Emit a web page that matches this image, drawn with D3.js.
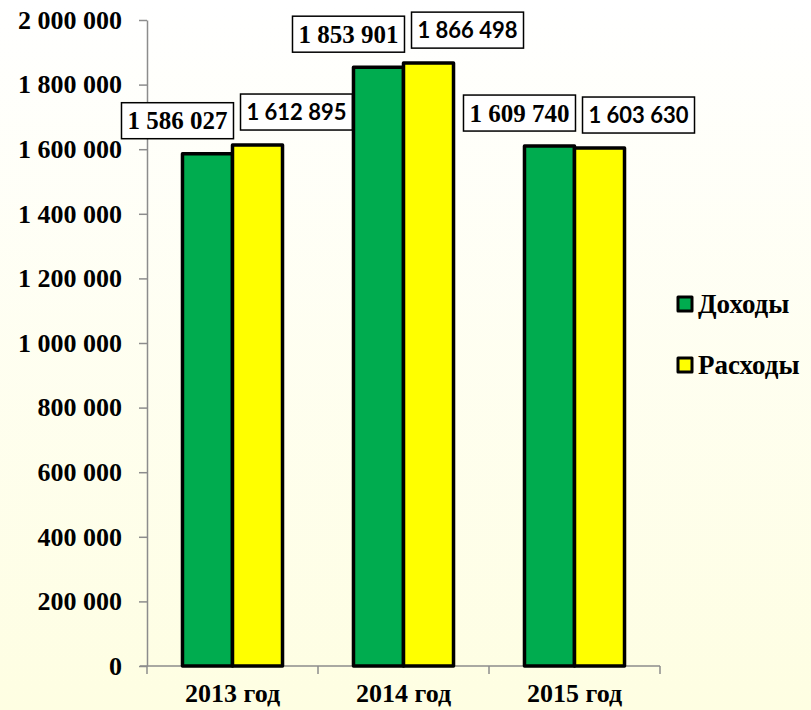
<!DOCTYPE html>
<html>
<head>
<meta charset="utf-8">
<script src="https://cdn.jsdelivr.net/npm/d3@7"></script>
<style>
  html, body { margin: 0; padding: 0; }
  svg { display: block; }
</style>
</head>
<body>
<svg id="chart" width="811" height="710"></svg>
<script>
const years = ['2013 год', '2014 год', '2015 год']
const seriesNames = ['Доходы', 'Расходы']
const income = [1586027, 1853901, 1609740]
const expenses = [1612895, 1866498, 1603630]
const yTicks = [0, 200000, 400000, 600000, 800000, 1000000, 1200000, 1400000, 1600000, 1800000, 2000000]

const width = 811, height = 710
const colors = ['#00ac4f', '#ffff00']
const serif = '"Liberation Serif", "Times New Roman", serif'
const sans = 'Lato, "Open Sans", sans-serif'

const svg = d3.select('#chart')

// soft white -> pale yellow background
const grad = svg.append('defs').append('linearGradient')
  .attr('id', 'bg').attr('x1', 0).attr('y1', 0).attr('x2', 0).attr('y2', 1)
grad.append('stop').attr('offset', '0%').attr('stop-color', '#ffffff')
grad.append('stop').attr('offset', '100%').attr('stop-color', '#fefee2')
svg.append('rect').attr('width', width).attr('height', height).attr('fill', 'url(#bg)')

const locale = d3.formatLocale({ decimal: ',', thousands: ' ', grouping: [3], currency: ['', ''] })
const fmt = locale.format(',')

const xScale = d3.scaleBand()
  .domain(years)
  .range([147, 660])
  .paddingInner(0.415)
  .paddingOuter(0.2075)

const innerScale = d3.scaleBand()
  .domain(seriesNames)
  .range([0, xScale.bandwidth()])

const yScale = d3.scaleLinear()
  .domain([0, 2000000])
  .range([666, 20])

const rows = years.map((year, i) => ({
  year: year,
  values: [
    { name: seriesNames[0], value: income[i] },
    { name: seriesNames[1], value: expenses[i] }
  ]
}))

// y axis
const yAxis = svg.append('g')
  .attr('transform', 'translate(147,0)')
  .call(d3.axisLeft(yScale).tickValues(yTicks).tickFormat(fmt).tickSizeInner(8).tickSizeOuter(0).tickPadding(17))
yAxis.select('.domain').attr('stroke', '#8c8c8c').attr('stroke-width', 1.5)
yAxis.selectAll('.tick line').attr('stroke', '#8c8c8c').attr('stroke-width', 1.5)
yAxis.selectAll('.tick text')
  .attr('font-family', serif).attr('font-weight', 'bold').attr('font-size', 26).attr('fill', '#000')

// x axis line with tick marks at category boundaries
const x0 = xScale.range()[0]
svg.append('line')
  .attr('x1', 140).attr('x2', xScale.range()[1])
  .attr('y1', yScale(0)).attr('y2', yScale(0))
  .attr('stroke', '#8c8c8c').attr('stroke-width', 1.5)
svg.selectAll('.xtick')
  .data(d3.range(years.length + 1))
  .enter().append('line')
  .attr('class', 'xtick')
  .attr('x1', d => x0 + d * xScale.step())
  .attr('x2', d => x0 + d * xScale.step())
  .attr('y1', yScale(0))
  .attr('y2', yScale(0) + 8)
  .attr('stroke', '#8c8c8c').attr('stroke-width', 1.5)

svg.selectAll('.xlabel')
  .data(years)
  .enter().append('text')
  .attr('class', 'xlabel')
  .attr('x', d => xScale(d) + xScale.bandwidth() / 2)
  .attr('y', 702)
  .attr('text-anchor', 'middle')
  .attr('font-family', serif).attr('font-weight', 'bold').attr('font-size', 26)
  .text(d => d)

// bars
const groups = svg.selectAll('.group')
  .data(rows)
  .enter().append('g')
  .attr('class', 'group')
  .attr('transform', d => `translate(${xScale(d.year)},0)`)

groups.selectAll('rect')
  .data(d => d.values)
  .enter().append('rect')
  .attr('x', d => innerScale(d.name))
  .attr('y', d => yScale(d.value))
  .attr('width', innerScale.bandwidth())
  .attr('height', d => yScale(0) - yScale(d.value))
  .attr('fill', (d, i) => colors[i])
  .attr('stroke', '#000')
  .attr('stroke-width', 3.5)
  .attr('stroke-linejoin', 'round')

// value labels in boxes, pushed outwards like the original
const nudge = [-30, 39]
const labelFonts = [serif, sans]
const labelSizes = [25, 22]
groups.selectAll('.lbl')
  .data(d => d.values)
  .enter().append('g')
  .attr('class', 'lbl')
  .each(function(d, i) {
    const cx = innerScale(d.name) + innerScale.bandwidth() / 2 + nudge[i]
    const bottom = yScale(d.value) - 15
    const g = d3.select(this)
    g.append('rect')
      .attr('x', cx - 56).attr('y', bottom - 36)
      .attr('width', 112).attr('height', 36)
      .attr('fill', '#fff').attr('stroke', '#000').attr('stroke-width', 1.5)
    g.append('text')
      .attr('x', cx).attr('y', bottom - 18)
      .attr('dy', '0.35em')
      .attr('text-anchor', 'middle')
      .attr('font-family', labelFonts[i]).attr('font-weight', 'bold').attr('font-size', labelSizes[i])
      .text(fmt(d.value))
  })

// legend
const legend = svg.selectAll('.legend')
  .data(seriesNames)
  .enter().append('g')
  .attr('class', 'legend')
  .attr('transform', (d, i) => `translate(678,${304 + i * 61})`)

legend.append('rect')
  .attr('x', 0).attr('y', -7)
  .attr('width', 14).attr('height', 14)
  .attr('fill', (d, i) => colors[i])
  .attr('stroke', '#000').attr('stroke-width', 3)
  .attr('stroke-linejoin', 'round')

legend.append('text')
  .attr('x', 20).attr('y', 0).attr('dy', '0.35em')
  .attr('font-family', serif).attr('font-weight', 'bold').attr('font-size', 27)
  .text(d => d)
</script>
</body>
</html>
